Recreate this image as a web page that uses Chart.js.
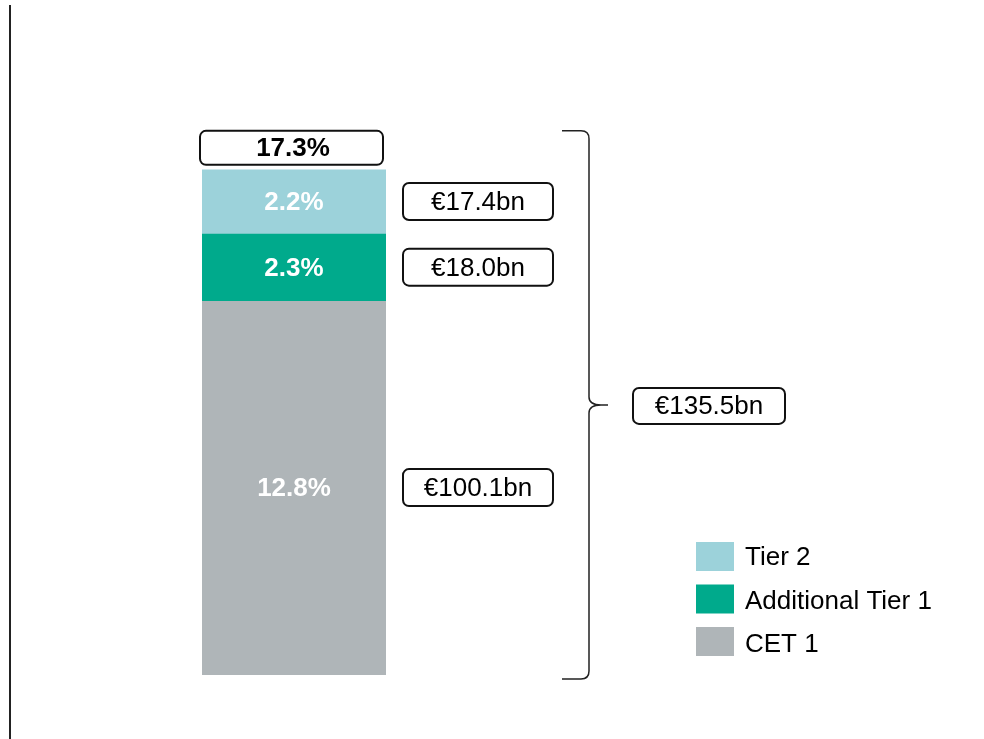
<!DOCTYPE html>
<html>
<head>
<meta charset="utf-8">
<script src="https://cdn.jsdelivr.net/npm/chart.js@4/dist/chart.umd.min.js"></script>
<style>
  body { margin: 0; background: #fff; }
  #wrap { width: 984px; height: 739px; position: relative; }
</style>
</head>
<body>
<div id="wrap"><canvas id="capitalChart"></canvas></div>
<script>
/**
 * Capital structure data
 */
const categories = ['Total capital'];
const seriesNames = ['CET 1', 'Additional Tier 1', 'Tier 2'];
const cet1Ratio = [12.8];
const at1Ratio = [2.3];
const tier2Ratio = [2.2];
const amountLabels = ['€100.1bn', '€18.0bn', '€17.4bn'];
const totalRatioLabel = '17.3%';
const totalAmountLabel = '€135.5bn';
const colours = ['#AFB5B8', '#00AA8C', '#9CD2DA'];

const FONT = '"Liberation Sans", Arial, sans-serif';

function roundBox(ctx, x, y, w, h, r)
{
    ctx.beginPath();
    ctx.moveTo(x + r, y);
    ctx.arcTo(x + w, y, x + w, y + h, r);
    ctx.arcTo(x + w, y + h, x, y + h, r);
    ctx.arcTo(x, y + h, x, y, r);
    ctx.arcTo(x, y, x + w, y, r);
    ctx.closePath();
    ctx.fillStyle = '#fff';
    ctx.fill();
    ctx.lineWidth = 2;
    ctx.strokeStyle = '#111';
    ctx.stroke();
}

/**
 * Labels, boxes, brace and legend drawn on top of the bars
 */
const annotations = {
    id: 'annotations',
    afterDatasetsDraw(chart) {
        const ctx = chart.ctx;
        ctx.save();

        // left rule
        ctx.strokeStyle = '#222';
        ctx.lineWidth = 2;
        ctx.beginPath();
        ctx.moveTo(10, 5);
        ctx.lineTo(10, 739);
        ctx.stroke();

        let barTop = 0, barBase = 0, barLeft = 0, barRight = 0;

        chart.data.datasets.forEach(function (ds, i) {
            const bar = chart.getDatasetMeta(i).data[0];
            const props = bar.getProps(['x', 'y', 'base', 'width'], true);
            const cy = (props.y + props.base) / 2;
            barLeft = props.x - props.width / 2;
            barRight = props.x + props.width / 2;
            if (i === 0) barBase = props.base;
            barTop = props.y;

            ctx.fillStyle = '#fff';
            ctx.font = 'bold 26px ' + FONT;
            ctx.textAlign = 'center';
            ctx.textBaseline = 'middle';
            ctx.fillText(ds.data[0].toFixed(1) + '%', props.x, cy + 1);

            roundBox(ctx, barRight + 17, cy - 19, 150, 37, 6);
            ctx.fillStyle = '#000';
            ctx.font = '26px ' + FONT;
            ctx.fillText(amountLabels[i], barRight + 17 + 75, cy + 1);
        });

        // total ratio box
        roundBox(ctx, barLeft - 2, barTop - 39, barRight - barLeft - 1, 34, 6);
        ctx.fillStyle = '#000';
        ctx.font = 'bold 26px ' + FONT;
        ctx.textAlign = 'center';
        ctx.fillText(totalRatioLabel, (barLeft + barRight) / 2 - 1, barTop - 21);

        // brace
        const bx = 589;
        const top = barTop - 39;
        const bottom = barBase + 4;
        const mid = (top + bottom) / 2;
        ctx.strokeStyle = '#222';
        ctx.lineWidth = 1.5;
        ctx.beginPath();
        ctx.moveTo(562, top);
        ctx.lineTo(581, top);
        ctx.quadraticCurveTo(bx, top, bx, top + 8);
        ctx.lineTo(bx, mid - 8);
        ctx.quadraticCurveTo(bx, mid, bx + 12, mid);
        ctx.lineTo(608, mid);
        ctx.moveTo(bx + 12, mid);
        ctx.quadraticCurveTo(bx, mid, bx, mid + 8);
        ctx.lineTo(bx, bottom - 8);
        ctx.quadraticCurveTo(bx, bottom, 581, bottom);
        ctx.lineTo(562, bottom);
        ctx.stroke();

        roundBox(ctx, 633, mid - 17, 152, 36, 6);
        ctx.fillStyle = '#000';
        ctx.font = '26px ' + FONT;
        ctx.fillText(totalAmountLabel, 633 + 76, mid + 2);

        // legend, top entry first
        const n = chart.data.datasets.length;
        for (let k = 0; k < n; k++) {
            const ds = chart.data.datasets[n - 1 - k];
            const ly = 556 + k * 42.5;
            ctx.fillStyle = ds.backgroundColor;
            ctx.fillRect(696, ly - 14, 38, 29);
            ctx.fillStyle = '#000';
            ctx.textAlign = 'left';
            ctx.font = '26px ' + FONT;
            ctx.fillText(ds.label, 745, ly + 2 + k);
        }

        ctx.restore();
    }
};

const seriesValues = [cet1Ratio, at1Ratio, tier2Ratio];

new Chart(document.getElementById('capitalChart'), {
    type: 'bar',
    data: {
        labels: categories,
        datasets: seriesValues.map(function (values, i) {
            return {
                label: seriesNames[i],
                data: values,
                backgroundColor: colours[i],
                borderWidth: 0,
                barPercentage: 1,
                categoryPercentage: 1
            };
        })
    },
    options: {
        responsive: true,
        maintainAspectRatio: false,
        animation: false,
        layout: { padding: { left: 202, right: 598, top: 91, bottom: 64 } },
        plugins: { legend: { display: false }, tooltip: { enabled: false } },
        scales: {
            x: { stacked: true, display: false },
            y: { stacked: true, display: false, min: 0, max: 20 }
        }
    },
    plugins: [annotations]
});
</script>
</body>
</html>
